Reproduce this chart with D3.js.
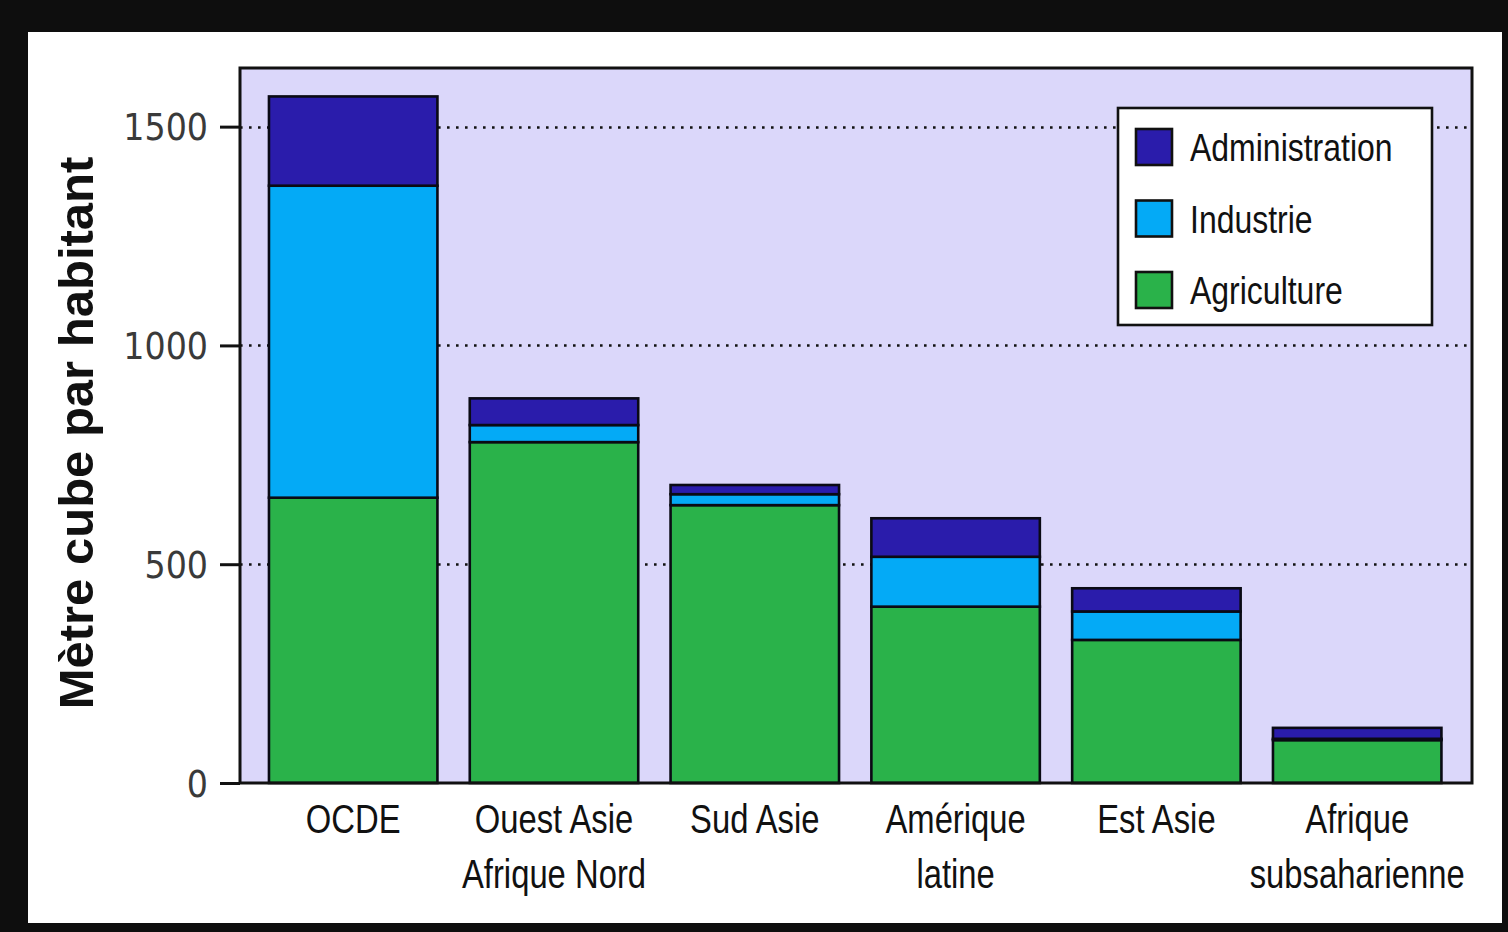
<!DOCTYPE html>
<html>
<head>
<meta charset="utf-8">
<script src="https://cdn.jsdelivr.net/npm/d3@7"></script>
<style>
  html, body { margin: 0; padding: 0; background: #0e0e0e; }
  svg { display: block; }
</style>
</head>
<body>
<svg id="chart" width="1508" height="932"></svg>
<script>
// ---- data ----
const categories = ["OCDE", "Ouest Asie\nAfrique Nord", "Sud Asie", "Amérique\nlatine", "Est Asie", "Afrique\nsubsaharienne"];
const agriculture    = [652, 779, 635, 403, 327, 98];
const industrie      = [713,  39,  25, 114,  65,  3];
const administration = [204,  61,  21,  88,  53, 25];
const seriesNames = ["Agriculture", "Industrie", "Administration"];
const seriesColors = ["#2ab24a", "#04aaf6", "#2a1cab"];
const yTicks = [0, 500, 1000, 1500];
const yMax = 1634;

// ---- build ----
const rows = categories.map((c, i) => ({
  cat: c,
  Agriculture: agriculture[i],
  Industrie: industrie[i],
  Administration: administration[i]
}));

const svg = d3.select("#chart");
const narrow = 0.82;

// white panel inside black frame
svg.append("rect").attr("x", 28).attr("y", 32).attr("width", 1474).attr("height", 891).attr("fill", "#ffffff");

const plot = { left: 240, top: 68, right: 1472, bottom: 783 };

const x = d3.scaleBand()
  .domain(categories)
  .range([252.8, 1457.6])
  .paddingInner(0.161)
  .paddingOuter(0.0805);

const y = d3.scaleLinear().domain([0, yMax]).range([plot.bottom, plot.top]);

const color = d3.scaleOrdinal().domain(seriesNames).range(seriesColors);

// plot background
svg.append("rect")
  .attr("x", plot.left).attr("y", plot.top)
  .attr("width", plot.right - plot.left).attr("height", plot.bottom - plot.top)
  .attr("fill", "#dbd7fa");

// gridlines
svg.append("g").selectAll("line")
  .data(yTicks.filter(d => d > 0))
  .join("line")
  .attr("x1", plot.left).attr("x2", plot.right)
  .attr("y1", d => Math.round(y(d)) + 0.5).attr("y2", d => Math.round(y(d)) + 0.5)
  .attr("stroke", "#111")
  .attr("stroke-width", 2.6)
  .attr("stroke-dasharray", "2.6,6.4");

// stacked bars
const stacked = d3.stack().keys(seriesNames)(rows);
svg.append("g").selectAll("g")
  .data(stacked)
  .join("g")
  .attr("fill", d => color(d.key))
  .selectAll("rect")
  .data(d => d)
  .join("rect")
  .attr("x", d => x(d.data.cat))
  .attr("width", x.bandwidth())
  .attr("y", d => y(d[1]))
  .attr("height", d => y(d[0]) - y(d[1]))
  .attr("stroke", "#0a0a14")
  .attr("stroke-width", 2.6);

// plot frame
svg.append("rect")
  .attr("x", plot.left).attr("y", plot.top)
  .attr("width", plot.right - plot.left).attr("height", plot.bottom - plot.top)
  .attr("fill", "none").attr("stroke", "#111").attr("stroke-width", 3);

// y axis
const yAxis = svg.append("g")
  .attr("transform", `translate(${plot.left},0)`)
  .call(d3.axisLeft(y).tickValues(yTicks).tickFormat(d3.format("d")).tickSize(20).tickPadding(12));
yAxis.select(".domain").remove();
yAxis.selectAll(".tick line").attr("stroke", "#111").attr("stroke-width", 3);
yAxis.selectAll(".tick text")
  .attr("fill", "#3a3a3a")
  .style("font-family", "'DejaVu Sans Condensed', 'DejaVu Sans', sans-serif")
  .style("font-stretch", "condensed")
  .style("font-size", "37px")
  .attr("dy", "0.36em");

// x axis labels (narrow sans emulated by horizontal compression)
const xLab = svg.append("g").selectAll("text")
  .data(categories)
  .join("text")
  .attr("transform", d => `translate(${x(d) + x.bandwidth() / 2},833) scale(${narrow},1)`)
  .attr("text-anchor", "middle")
  .attr("fill", "#111")
  .style("font-family", "'Liberation Sans', Arial, sans-serif")
  .style("font-size", "40px");
xLab.selectAll("tspan")
  .data(d => d.split("\n").map((t, i) => ({ t, i })))
  .join("tspan")
  .attr("x", 0)
  .attr("dy", d => d.i === 0 ? 0 : 55)
  .text(d => d.t);

// y axis title
svg.append("text")
  .attr("transform", "translate(93,433) rotate(-90)")
  .attr("text-anchor", "middle")
  .attr("fill", "#111")
  .style("font-family", "'Liberation Sans', Arial, sans-serif")
  .style("font-weight", "bold")
  .style("font-size", "49px")
  .text("Mètre cube par habitant");

// legend
const legend = svg.append("g");
legend.append("rect")
  .attr("x", 1118).attr("y", 108).attr("width", 314).attr("height", 217)
  .attr("fill", "#ffffff").attr("stroke", "#111").attr("stroke-width", 2.6);
const legendOrder = seriesNames.slice().reverse();
const li = legend.selectAll("g.item")
  .data(legendOrder)
  .join("g")
  .attr("class", "item")
  .attr("transform", (d, i) => `translate(1136, ${129 + i * 71.5})`);
li.append("rect")
  .attr("width", 36).attr("height", 36)
  .attr("fill", d => color(d))
  .attr("stroke", "#111").attr("stroke-width", 2.6);
li.append("text")
  .attr("transform", `translate(54,32) scale(${narrow},1)`)
  .attr("fill", "#111")
  .style("font-family", "'Liberation Sans', Arial, sans-serif")
  .style("font-size", "39px")
  .text(d => d);
</script>
</body>
</html>
